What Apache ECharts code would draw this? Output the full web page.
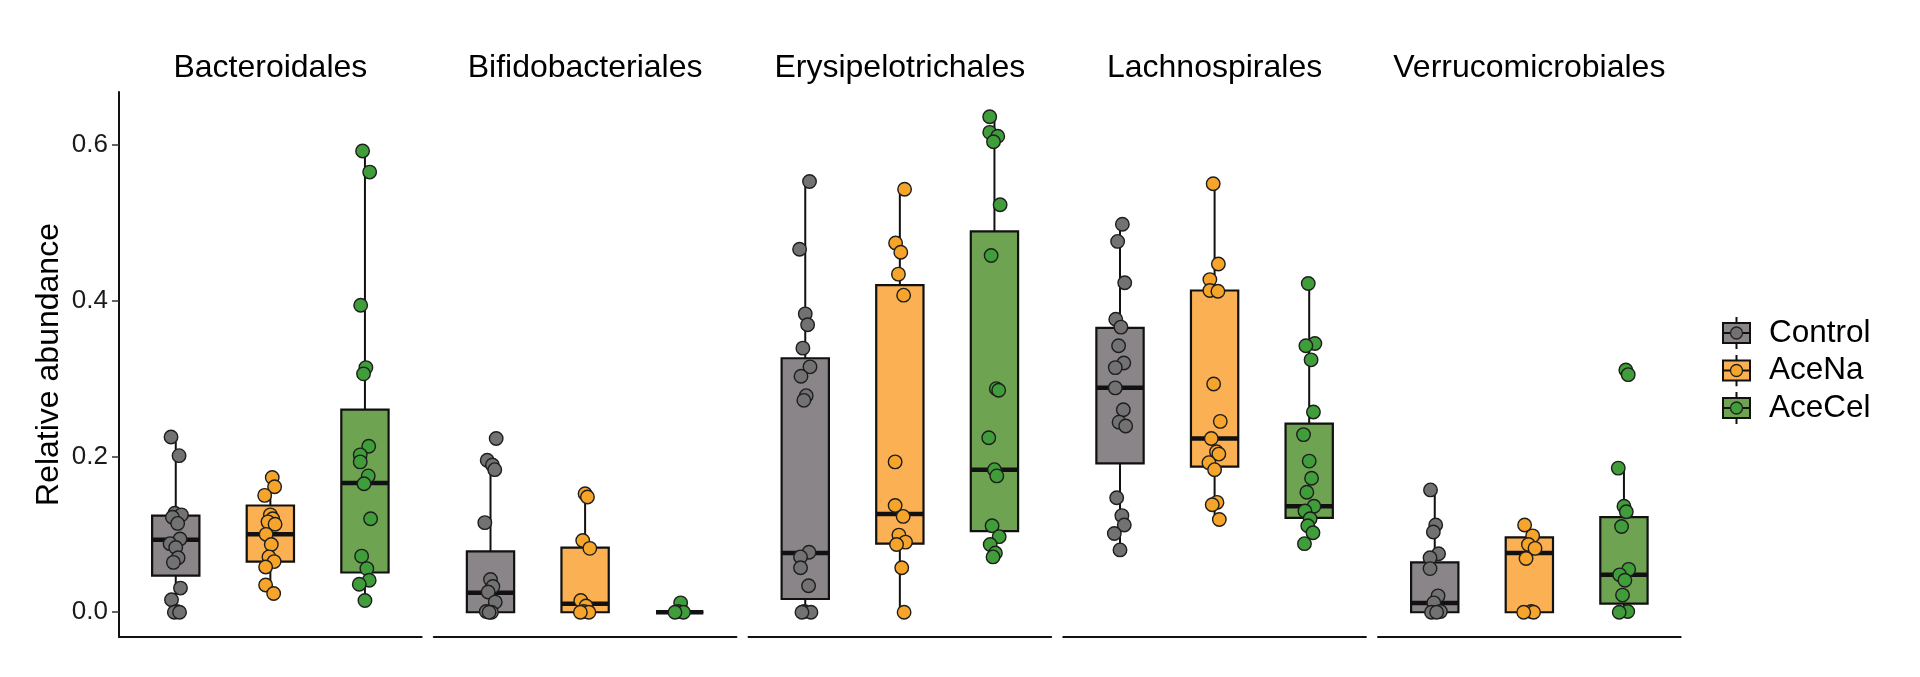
<!DOCTYPE html>
<html>
<head>
<meta charset="utf-8">
<title>Relative abundance by order</title>
<script src="https://cdn.jsdelivr.net/npm/echarts@6.0.0/dist/echarts.min.js"></script>
<style>
  html, body { margin: 0; padding: 0; background: #fff; }
  #main { width: 1920px; height: 677px; }
</style>
</head>
<body>
<div id="main"></div>
<script>
const orders = ['Bacteroidales', 'Bifidobacteriales', 'Erysipelotrichales', 'Lachnospirales', 'Verrucomicrobiales'];
const groups = ['Control', 'AceNa', 'AceCel'];
const yTicks = [0, 0.2, 0.4, 0.6];

// box stats per group: [whisker low, Q1, median, Q3, whisker high]
const bacteroidalesBox = [[0, 0.047, 0.093, 0.124, 0.225], [0.024, 0.065, 0.100, 0.137, 0.173], [0.015, 0.051, 0.166, 0.260, 0.592]];
const bifidobacterialesBox = [[0, 0, 0.025, 0.078, 0.195], [0, 0, 0.011, 0.083, 0.151], [0, 0, 0, 0, 0]];
const erysipelotrichalesBox = [[0, 0.017, 0.076, 0.326, 0.553], [0, 0.088, 0.126, 0.420, 0.543], [0.071, 0.104, 0.183, 0.489, 0.636]];
const lachnospiralesBox = [[0.080, 0.191, 0.288, 0.365, 0.498], [0.119, 0.187, 0.223, 0.413, 0.550], [0.088, 0.121, 0.136, 0.242, 0.422]];
const verrucomicrobialesBox = [[0, 0, 0.012, 0.064, 0.157], [0, 0, 0.076, 0.096, 0.112], [0, 0.011, 0.048, 0.122, 0.185]];

// individual samples per group (Control, AceNa, AceCel)
const bacteroidalesPts = [
  [0.225, 0.201, 0.127, 0.125, 0.122, 0.114, 0.094, 0.088, 0.083, 0.070, 0.064, 0.031, 0.016, 0.001, 0, 0],
  [0.173, 0.161, 0.150, 0.125, 0.120, 0.116, 0.113, 0.100, 0.087, 0.071, 0.065, 0.058, 0.035, 0.024],
  [0.592, 0.565, 0.394, 0.314, 0.306, 0.213, 0.202, 0.193, 0.175, 0.165, 0.120, 0.072, 0.056, 0.041, 0.036, 0.015]
];
const bifidobacterialesPts = [
  [0.223, 0.195, 0.189, 0.183, 0.115, 0.042, 0.033, 0.026, 0.013, 0.001, 0, 0],
  [0.152, 0.148, 0.092, 0.082, 0.015, 0.008, 0.001, 0, 0],
  [0.012, 0.001, 0, 0]
];
const erysipelotrichalesPts = [
  [0.553, 0.466, 0.383, 0.369, 0.339, 0.315, 0.303, 0.278, 0.272, 0.077, 0.071, 0.057, 0.034, 0.001, 0, 0],
  [0.543, 0.474, 0.462, 0.434, 0.407, 0.193, 0.137, 0.123, 0.099, 0.090, 0.087, 0.057, 0],
  [0.636, 0.616, 0.611, 0.604, 0.523, 0.458, 0.287, 0.285, 0.224, 0.183, 0.175, 0.111, 0.097, 0.087, 0.076, 0.071]
];
const lachnospiralesPts = [
  [0.498, 0.476, 0.423, 0.376, 0.366, 0.342, 0.320, 0.314, 0.288, 0.260, 0.244, 0.239, 0.147, 0.124, 0.112, 0.101, 0.080],
  [0.550, 0.447, 0.427, 0.413, 0.412, 0.293, 0.245, 0.223, 0.206, 0.203, 0.192, 0.183, 0.141, 0.138, 0.119],
  [0.422, 0.345, 0.342, 0.324, 0.257, 0.228, 0.194, 0.172, 0.154, 0.136, 0.130, 0.120, 0.111, 0.102, 0.088]
];
const verrucomicrobialesPts = [
  [0.157, 0.112, 0.103, 0.075, 0.070, 0.056, 0.021, 0.012, 0.001, 0, 0],
  [0.112, 0.098, 0.087, 0.082, 0.069, 0.001, 0, 0],
  [0.311, 0.305, 0.185, 0.136, 0.129, 0.110, 0.055, 0.048, 0.041, 0.022, 0.001, 0]
];

const boxStats = [bacteroidalesBox, bifidobacterialesBox, erysipelotrichalesBox, lachnospiralesBox, verrucomicrobialesBox];
const samples = [bacteroidalesPts, bifidobacterialesPts, erysipelotrichalesPts, lachnospiralesPts, verrucomicrobialesPts];

const boxColors = ['#8a8588', '#fbb153', '#6ea352'];
const dotColors = ['#727272', '#f6a42a', '#3f9d3a'];
const FONT = '"Liberation Sans", Arial, Helvetica, sans-serif';

// small fixed horizontal spread so dots don't sit on one line
const spread = [-0.05, 0.035, -0.01, 0.06, -0.035, 0.02, 0.045, -0.06, 0.0, 0.025, -0.025, 0.05, -0.045, 0.01, -0.015, 0.04, -0.05];

const panelLeft = 119, panelPitch = 314.75, panelWidth = 302.7;
const gridTop = 92, gridHeight = 545;
const yMin = -0.0318, yMax = 0.6678;

function makeBoxRenderer(fill) {
  return function (params, api) {
    const x = api.value(0);
    const lo = api.coord([x, api.value(1)]);
    const q1 = api.coord([x, api.value(2)]);
    const md = api.coord([x, api.value(3)]);
    const q3 = api.coord([x, api.value(4)]);
    const hi = api.coord([x, api.value(5)]);
    const half = api.size([0.5, 0])[0] / 2;
    const line = { stroke: '#111', lineWidth: 2 };
    return {
      type: 'group',
      children: [
        { type: 'line', shape: { x1: lo[0], y1: lo[1], x2: q1[0], y2: q1[1] }, style: line },
        { type: 'line', shape: { x1: q3[0], y1: q3[1], x2: hi[0], y2: hi[1] }, style: line },
        { type: 'rect', shape: { x: q3[0] - half, y: q3[1], width: half * 2, height: q1[1] - q3[1] },
          style: { fill: fill, stroke: '#111', lineWidth: 2.2 } },
        { type: 'line', shape: { x1: md[0] - half, y1: md[1], x2: md[0] + half, y2: md[1] },
          style: { stroke: '#111', lineWidth: 4.5 } }
      ]
    };
  };
}

function legendIcon(gi) {
  const svg = '<svg xmlns="http://www.w3.org/2000/svg" width="42" height="32" viewBox="0 0 42 32">' +
    '<line x1="14.5" y1="0" x2="14.5" y2="32" stroke="#111" stroke-width="2"/>' +
    '<rect x="1" y="6" width="27" height="20" fill="' + boxColors[gi] + '" stroke="#111" stroke-width="2"/>' +
    '<line x1="1" y1="16" x2="28" y2="16" stroke="#111" stroke-width="2"/>' +
    '<circle cx="14.5" cy="16" r="6" fill="' + dotColors[gi] + '" stroke="#222" stroke-width="1.3"/>' +
    '</svg>';
  return 'image://data:image/svg+xml;charset=utf-8,' + encodeURIComponent(svg);
}

const chart = echarts.init(document.getElementById('main'), null, { renderer: 'canvas' });

const grids = [], xAxes = [], yAxes = [], titles = [], series = [];

orders.forEach(function (name, oi) {
  const left = panelLeft + panelPitch * oi;
  grids.push({ left: left, top: gridTop, width: panelWidth, height: gridHeight, outerBoundsMode: 'none' });
  titles.push({
    text: name, left: left + panelWidth / 2, top: 52, textAlign: 'center', padding: 0,
    textStyle: { fontFamily: FONT, fontSize: 32, fontWeight: 'normal', color: '#000' }
  });
  xAxes.push({
    type: 'value', gridIndex: oi, min: 0.4, max: 3.6,
    axisLine: { show: true, onZero: false, lineStyle: { color: '#111', width: 2 } },
    axisTick: { show: false }, axisLabel: { show: false }, splitLine: { show: false }
  });
  const first = oi === 0;
  yAxes.push({
    type: 'value', gridIndex: oi, min: yMin, max: yMax,
    show: first,
    name: first ? 'Relative abundance' : '',
    nameLocation: 'middle', nameGap: 54, nameRotate: 90,
    nameTextStyle: { fontFamily: FONT, fontSize: 32, color: '#000' },
    axisLine: { show: first, onZero: false, lineStyle: { color: '#111', width: 2 } },
    axisTick: { show: first, length: 7, customValues: yTicks, lineStyle: { color: '#333', width: 1.5 } },
    axisLabel: {
      show: first, customValues: yTicks, margin: 11,
      fontFamily: FONT, fontSize: 26, color: '#1a1a1a',
      formatter: function (v) { return v.toFixed(1); }
    },
    splitLine: { show: false }
  });

  groups.forEach(function (g, gi) {
    series.push({
      name: g, type: 'custom', xAxisIndex: oi, yAxisIndex: oi, z: 2,
      itemStyle: { color: boxColors[gi] },
      renderItem: makeBoxRenderer(boxColors[gi]),
      encode: { x: 0, y: [1, 2, 3, 4, 5] },
      data: [[gi + 1].concat(boxStats[oi][gi])],
      silent: true
    });
    series.push({
      name: g, type: 'scatter', xAxisIndex: oi, yAxisIndex: oi, z: 3,
      symbolSize: 13.5,
      itemStyle: { color: dotColors[gi], borderColor: '#1e1e1e', borderWidth: 1.4, opacity: 1 },
      data: samples[oi][gi].map(function (v, k) {
        return [gi + 1 + spread[(k + gi * 5 + oi * 3) % spread.length], v];
      })
    });
  });
});

chart.setOption({
  animation: false,
  backgroundColor: '#fff',
  title: titles,
  grid: grids,
  xAxis: xAxes,
  yAxis: yAxes,
  legend: {
    orient: 'vertical', left: 1722, top: 317, padding: 0,
    itemWidth: 42, itemHeight: 32, itemGap: 5.5,
    textStyle: { fontFamily: FONT, fontSize: 31.5, color: '#000' },
    data: groups.map(function (g, gi) { return { name: g, icon: legendIcon(gi) }; })
  },
  series: series
});
</script>
</body>
</html>
